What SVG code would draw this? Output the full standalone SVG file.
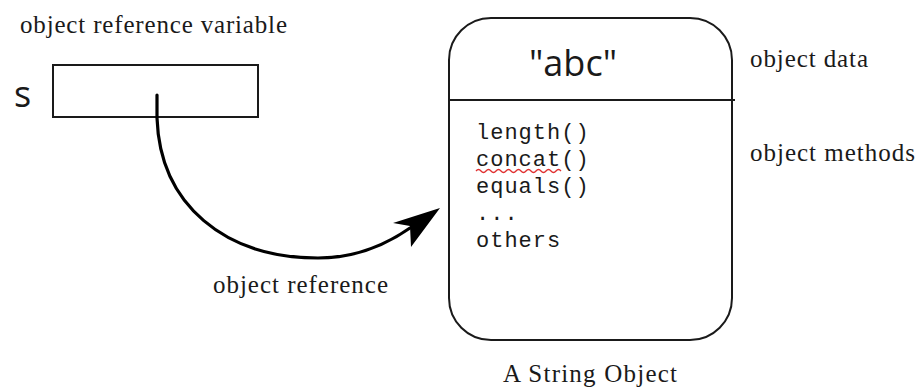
<svg xmlns="http://www.w3.org/2000/svg" width="920" height="389" viewBox="0 0 920 389">
  <style>
    .serif { font-family: "Liberation Serif", "Times New Roman", serif; font-size: 25px; fill: #1a1a1a; }
    .sans { font-family: "Open Sans", "Noto Sans", sans-serif; font-size: 36px; fill: #1a1a1a; }
    .mono { font-family: "Liberation Mono", "Courier New", monospace; font-size: 22px; letter-spacing: 1px; fill: #1a1a1a; }
    .outline { fill: #ffffff; stroke: #1a1a1a; stroke-width: 2; }
    .rule { stroke: #1a1a1a; stroke-width: 2; fill: none; }
    .ref { stroke: #000000; stroke-width: 3.2; fill: none; stroke-linecap: round; }
    .squiggle { stroke: #e03030; stroke-width: 1.3; fill: none; }
  </style>
  <rect width="920" height="389" fill="#ffffff"/>

  <!-- reference variable s -->
  <g id="variable">
    <text class="serif" x="20" y="33" textLength="267" lengthAdjust="spacing">object reference variable</text>
    <text class="sans" x="14" y="107">s</text>
    <rect class="outline" x="53" y="65" width="205" height="52"/>
  </g>

  <!-- the String object -->
  <g id="string-object">
    <rect class="outline" x="449" y="18" width="283" height="322" rx="42" ry="42"/>
    <line class="rule" x1="449" y1="100" x2="735" y2="100"/>
    <text class="sans" x="573" y="76" text-anchor="middle">"abc"</text>
    <text class="mono" x="476" y="139">length()</text>
    <text class="mono" x="476" y="166">concat()</text>
    <path class="squiggle" d="M476,171 q2.5,-3 5,0 t5,0 t5,0 t5,0 t5,0 t5,0 t5,0 t5,0 t5,0 t5,0 t5,0 t5,0 t5,0 t5,0 t5,0 t5,0 t5,0"/>
    <text class="mono" x="476" y="193">equals()</text>
    <text class="mono" x="476" y="220">...</text>
    <text class="mono" x="476" y="247">others</text>
    <text class="serif" x="503" y="382" textLength="174" lengthAdjust="spacing">A String Object</text>
  </g>

  <!-- side labels -->
  <g id="label-data">
    <text class="serif" x="750" y="67" textLength="118" lengthAdjust="spacing">object data</text>
  </g>
  <g id="label-methods">
    <text class="serif" x="750" y="161" textLength="165" lengthAdjust="spacing">object methods</text>
  </g>

  <!-- reference arrow from s to the object -->
  <g id="connectors">
    <path class="ref" d="M157,95 L157,118 C160,205 225,258 318,258 C360,258 390,242 410,228"/>
    <polygon points="440,208 393,223 410,226 411,247" fill="#000000"/>
    <text class="serif" x="213" y="293" textLength="175" lengthAdjust="spacing">object reference</text>
  </g>
</svg>
